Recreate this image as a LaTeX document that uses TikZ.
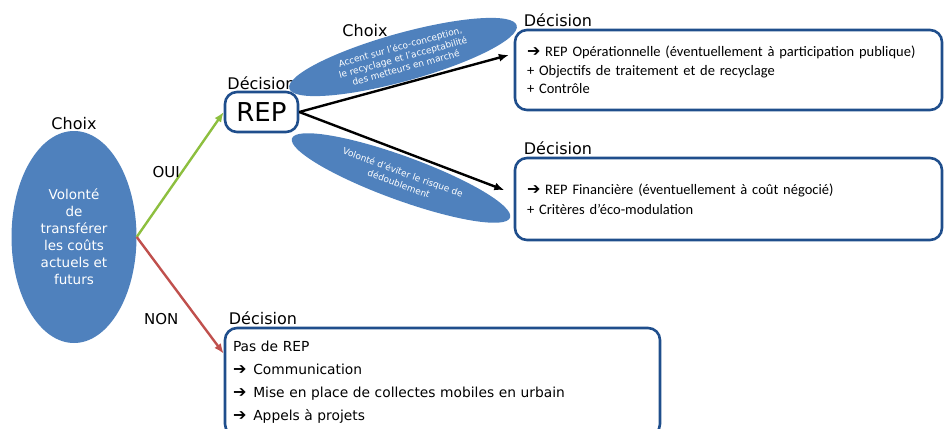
\documentclass[tikz,border=0pt]{standalone}
\usepackage{fontspec}
\setmainfont{DejaVu Sans}
\newfontfamily\calibri{Carlito}
\newfontfamily\dejavu{DejaVu Sans}
\usepackage{xcolor}
\usetikzlibrary{arrows.meta,positioning,shapes.geometric}
\definecolor{bleuRemp}{HTML}{4F81BD}
\definecolor{bleuBord}{HTML}{1F4E8C}
\definecolor{vertOui}{HTML}{8DBF3F}
\definecolor{rougeNon}{HTML}{C0504D}
\newcommand{\fleche}{{\dejavu\bfseries\fontsize{16}{16}\selectfont ➔}}
\tikzset{
	choix/.style={ellipse, fill=bleuRemp, text=white, inner sep=0pt, align=center},
	decision/.style={draw=bleuBord, line width=2.6pt, rounded corners=12pt, align=left},
	titre/.style={font=\fontsize{16}{18}\selectfont, inner sep=1pt}
}

\begin{document}
\begin{tikzpicture}[x=1pt, y=-1pt, fleche/.style={-{Latex[length=10pt,width=8pt]}, line width=2.4pt}]
	\useasboundingbox (0,0) rectangle (944,428);
	\node[choix, minimum width=125pt, minimum height=212pt, font=\fontsize{13.5}{17}\selectfont] (volonte) at (74,237) {Volonté\\de\\transférer\\les coûts\\actuels et\\futurs};
	\node[titre, above=0pt of volonte] (choixA) {Choix};
	\node[decision, minimum width=73pt, minimum height=40pt, inner sep=0pt, font=\fontsize{26}{28}\selectfont] (rep) at (261.5,112) {REP};
	\node[titre, above=0pt of rep] (decA) {Décision};
	\node[choix, rotate=15.5, minimum width=236pt, minimum height=48pt, font=\fontsize{9}{10.8}\selectfont] (accent) at (403,57) {Accent sur l’éco-conception,\\le recyclage et l’acceptabilité\\des metteurs en marché};
	\node[titre] (choixB) at (365,31) {Choix};
	\node[choix, rotate=-20, minimum width=232pt, minimum height=44pt, font=\fontsize{9}{12}\selectfont] (eviter) at (401,178) {Volonté d’éviter le risque de\\dédoublement};
	\node[decision, text width=403pt, inner xsep=12pt, minimum height=80pt, font=\calibri\fontsize{14.5}{18.5}\selectfont] (oper) at (728.5,70) {\fleche{} REP Opérationnelle (éventuellement à participation publique)\\+ Objectifs de traitement et de recyclage\\+ Contrôle};
	\node[titre, above right=1pt and 9pt of oper.north west] (decB) {Décision};
	\node[decision, text width=403pt, inner xsep=12pt, minimum height=82pt, font=\calibri\fontsize{14.5}{20}\selectfont] (fin) at (728.5,199) {\fleche{} REP Financière (éventuellement à coût négocié)\\+ Critères d’éco-modulation};
	\node[titre, above right=1pt and 9pt of fin.north west] (decC) {Décision};
	\node[decision, text width=419pt, inner xsep=8pt, minimum height=108pt, font=\fontsize{13.8}{23}\selectfont] (pas) at (442.5,382) {Pas de REP\\\fleche\enspace Communication\\\fleche\enspace Mise en place de collectes mobiles en urbain\\\fleche\enspace Appels à projets};
	\node[titre, above right=1pt and 4pt of pas.north west] (decD) {Décision};
	\draw[fleche, draw=vertOui] (volonte.east) -- node[titre, pos=0.52, left=0pt, font=\fontsize{15}{17}\selectfont] (oui) {OUI} (rep.west);
	\draw[fleche, draw=rougeNon] (volonte.east) -- node[titre, pos=0.7, left=17pt, font=\fontsize{15}{17}\selectfont] (non) {NON} ([yshift=-27pt]pas.north west);
	\draw[fleche, shorten >=5pt] (rep.east) -- ([yshift=-25pt]oper.north west);
	\draw[fleche, shorten >=10pt] (rep.east) -- ([yshift=-37pt]fin.north west);
\end{tikzpicture}
\end{document}
